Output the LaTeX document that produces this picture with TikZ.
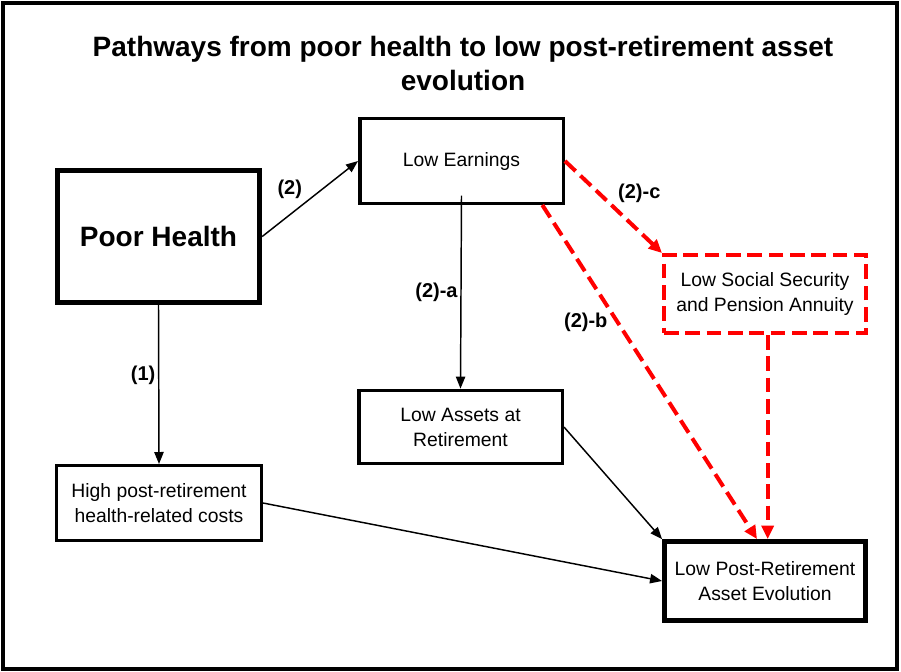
\documentclass[tikz,border=0pt]{standalone}
\usepackage{fontspec}
\setmainfont{Liberation Sans}
\usetikzlibrary{arrows.meta}
\definecolor{pathred}{HTML}{FF0000}

\begin{document}
\begin{tikzpicture}[
        x=0.75pt, y=-0.75pt,
        font=\fontsize{14.5}{18.75}\selectfont,
        box/.style={rectangle, draw, line width=2.6pt, fill=white, align=center, minimum width=152.6pt, minimum height=55pt, inner sep=2pt},
        thickbox/.style={box, line width=3.6pt},
        redbox/.style={box, draw=pathred, line width=3pt, dash pattern=on 11pt off 5pt},
        pathlabel/.style={font=\fontsize{15}{18}\selectfont\bfseries, inner sep=2pt},
        arrow/.style={-{Triangle[length=9pt, width=7pt]}, line width=1.1pt},
        redarrow/.style={-{Triangle[length=10pt, width=9pt]}, draw=pathred, line width=3pt, dash pattern=on 11pt off 5pt}
    ]

    \useasboundingbox (0,0) rectangle (901,672);
    \draw [line width=3pt] (3,3) rectangle (897,669);

    \node (title) at (463,63) [align=center, font=\fontsize{21}{25.5}\selectfont\bfseries] {Pathways from poor health to low post-retirement asset\\evolution};

    \node (poorhealth) at (158.5,236.5) [thickbox, minimum width=152pt, minimum height=99pt, font=\fontsize{21}{25}\selectfont\bfseries] {Poor Health};
    \node (lowearn) at (461.5,161) [box, minimum height=63.4pt] {Low Earnings};
    \node (lowss) at (765,294) [redbox, minimum width=151.5pt, minimum height=58.5pt] {Low Social Security\\and Pension Annuity};
    \node (lowassets) at (460.5,427) [box] {Low Assets at\\Retirement};
    \node (highcost) at (159,503) [box, minimum width=153.4pt, minimum height=55.9pt] {High post-retirement\\health-related costs};
    \node (lowpost) at (765,581) [thickbox, minimum width=150.8pt, minimum height=59.3pt] {Low Post-Retirement\\Asset Evolution};

    \draw [arrow] (poorhealth.east) -- node[pathlabel, pos=0.45, above left] {(2)} (lowearn.west);
    \draw [arrow] (poorhealth.south) -- node[pathlabel, pos=0.44, left] {(1)} (highcost.north);
    \draw [arrow] ([yshift=7pt]lowearn.south) -- node[pathlabel, midway, left] {(2)-a} (lowassets.north);

    \draw [redarrow] (lowearn.east) -- node[pathlabel, pos=0.5, above right] {(2)-c} (lowss.north west);
    \draw [redarrow] ([xshift=-17pt]lowearn.south east) -- node[pathlabel, pos=0.35, left=4pt] {(2)-b} ([xshift=-6pt]lowpost.north);
    \draw [redarrow] ([xshift=2pt]lowss.south) -- ([xshift=2pt]lowpost.north);

    \draw [arrow] (lowassets.east) -- (lowpost.north west);
    \draw [arrow] (highcost.east) -- (lowpost.west);

\end{tikzpicture}
\end{document}
